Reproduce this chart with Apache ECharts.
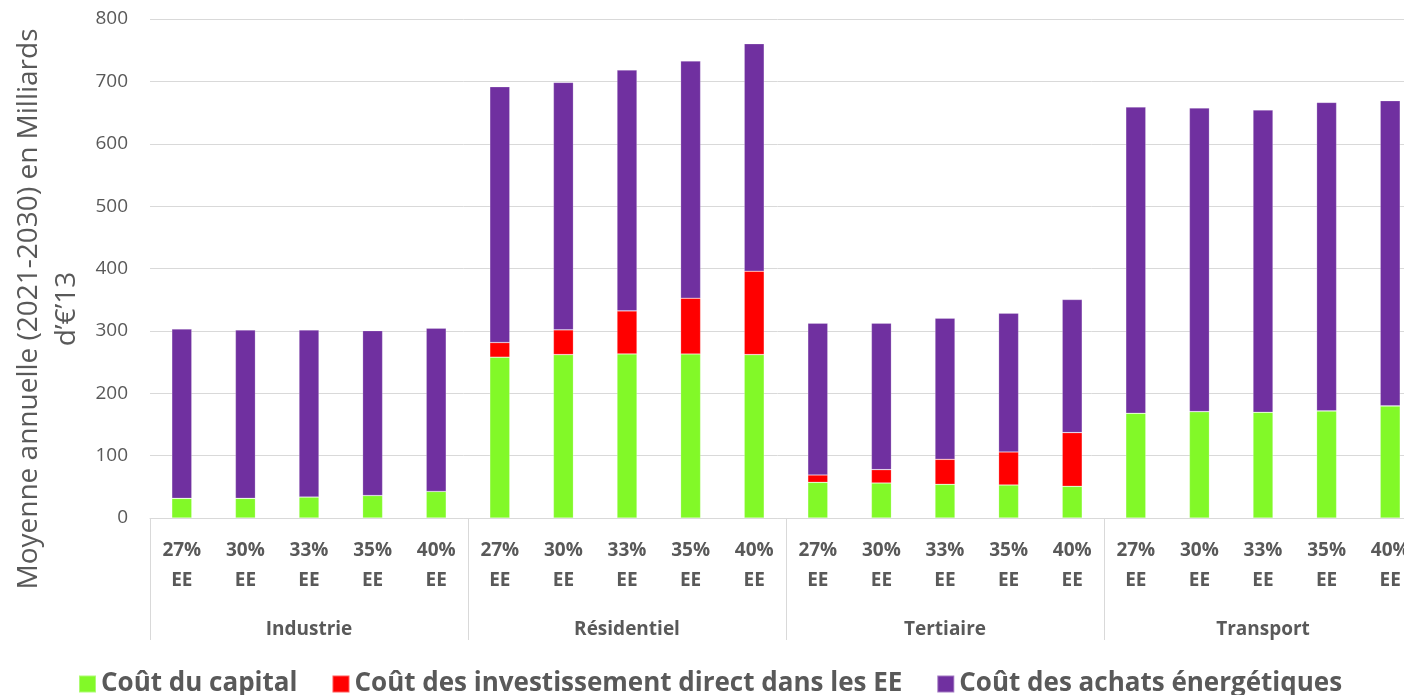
<!DOCTYPE html>
<html>
<head>
<meta charset="utf-8">
<script src="https://cdn.jsdelivr.net/npm/echarts@6/dist/echarts.min.js"></script>
<style>html,body{margin:0;padding:0;background:#fff;}#c{width:1404px;height:695px;}</style>
</head>
<body>
<div id="c"></div>
<script>
const sectors = ['Industrie', 'Résidentiel', 'Tertiaire', 'Transport'];
const scenarios = ['27%\nEE', '30%\nEE', '33%\nEE', '35%\nEE', '40%\nEE'];
const yTicks = [0, 100, 200, 300, 400, 500, 600, 700, 800];
const seriesNames = ['Coût du capital', 'Coût des investissement direct dans les EE', 'Coût des achats énergétiques'];
const capital = [31.5, 31.5, 33.7, 36.0, 42.6, 257.8, 262.0, 263.0, 263.0, 262.0, 57.2, 56.1, 54.0, 52.9, 50.8, 167.9, 170.6, 169.5, 171.7, 179.7];
const invest  = [0, 0, 0, 0, 0, 23.5, 39.6, 69.0, 89.4, 133.7, 11.8, 21.4, 40.1, 53.0, 86.1, 0, 0, 0, 0, 0];
const achats  = [271.5, 270.0, 267.8, 264.4, 261.7, 410.1, 396.8, 386.2, 380.2, 364.7, 243.3, 234.8, 226.2, 222.4, 213.4, 490.9, 486.6, 484.5, 494.6, 489.3];
const colors = ['#82F928', '#FF0000', '#7030A0'];

const categories = [];
sectors.forEach(() => scenarios.forEach(s => categories.push(s)));

const FONT = 'Open Sans';
const chart = echarts.init(document.getElementById('c'), null, {renderer: 'canvas'});
const mk = (i, data) => ({
  name: seriesNames[i], type: 'bar', stack: 'total', data: data, barWidth: 20,
  itemStyle: {color: colors[i], borderColor: 'rgba(255,255,255,0.35)', borderWidth: 0.6},
  xAxisIndex: 0, yAxisIndex: 0
});
chart.setOption({
  animation: false,
  textStyle: {fontFamily: FONT},
  grid: {left: 150, top: 19, width: 1272, height: 499, containLabel: false, outerBoundsMode: 'none'},
  legend: {
    left: 73, top: 666, itemWidth: 17, itemHeight: 17, itemGap: 34, icon: 'rect',
    textStyle: {fontFamily: FONT, fontSize: 26, fontWeight: 'bold', color: '#595959'},
    data: seriesNames
  },
  xAxis: [{
    type: 'category', data: categories, position: 'bottom',
    axisLine: {show: true, lineStyle: {color: '#D9D9D9', width: 1}},
    axisTick: {show: false},
    axisLabel: {interval: 0, color: '#595959', fontSize: 19, fontWeight: 'bold', lineHeight: 30, margin: 18, fontFamily: FONT}
  }, {
    type: 'category', data: sectors, position: 'bottom', gridIndex: 0,
    axisLine: {show: false},
    axisTick: {show: true, length: 122, lineStyle: {color: '#D9D9D9', width: 1}},
    axisLabel: {interval: 0, color: '#595959', fontSize: 19, fontWeight: 'bold', margin: 102, fontFamily: FONT}
  }],
  yAxis: {
    type: 'value', min: yTicks[0], max: yTicks[yTicks.length - 1], interval: 100,
    axisLine: {show: false}, axisTick: {show: false},
    splitLine: {lineStyle: {color: '#D9D9D9', width: 1}},
    axisLabel: {color: '#595959', fontSize: 19, margin: 22, fontFamily: FONT}
  },
  graphic: [{
    type: 'text', x: 48, y: 309, rotation: Math.PI / 2,
    style: {
      text: 'Moyenne annuelle (2021-2030) en Milliards\nd’€’13',
      textAlign: 'center', textVerticalAlign: 'middle',
      fontSize: 28, lineHeight: 38, fill: '#595959', fontFamily: FONT
    }
  }],
  series: [mk(0, capital), mk(1, invest), mk(2, achats)]
});
</script>
</body>
</html>
